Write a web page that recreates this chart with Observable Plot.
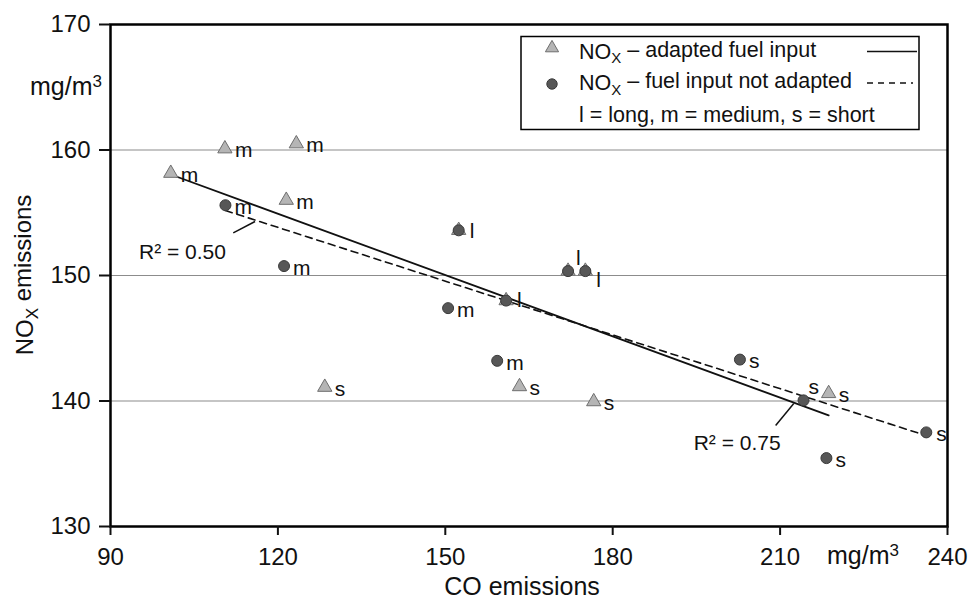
<!DOCTYPE html>
<html>
<head>
<meta charset="utf-8">
<script src="https://cdn.jsdelivr.net/npm/d3@7"></script>
<script src="https://cdn.jsdelivr.net/npm/@observablehq/plot@0.6"></script>
<style>
  body { margin: 0; background: #fff; }
  #wrap { width: 970px; height: 603px; }
  svg { font-family: "Liberation Sans", Arial, sans-serif; }
</style>
</head>
<body>
<div id="wrap"></div>
<script>
// ---- data ----
const adaptedCO  = [100.8, 110.5, 123.3, 121.5, 152.4, 172.0, 175.1, 160.9, 128.4, 163.3, 176.6, 218.7];
const adaptedNOx = [158.15, 160.1, 160.5, 156.0, 153.6, 150.35, 150.35, 148.0, 141.1, 141.15, 139.95, 140.6];
const adaptedDuration = ["m", "m", "m", "m", "l", "l", "l", "l", "s", "s", "s", "s"];

const notAdaptedCO  = [110.6, 121.1, 150.5, 159.3, 152.4, 172.0, 175.1, 160.9, 202.8, 214.2, 218.3, 236.2];
const notAdaptedNOx = [155.6, 150.75, 147.4, 143.2, 153.6, 150.35, 150.35, 148.0, 143.3, 140.05, 135.45, 137.5];
const notAdaptedDuration = ["m", "m", "m", "m", "l", "l", "l", "l", "s", "s", "s", "s"];

const xTicks = [90, 120, 150, 180, 210, 240];
const yTicks = [130, 140, 150, 160, 170];
const gridLines = [140, 150, 160];

const seriesLead = "NO";
const seriesSub = "X";
const seriesRest = ["– adapted fuel input", "– fuel input not adapted"];
const durationNote = "l = long, m = medium, s = short";

const r2Text = ["R² = 0.50", "R² = 0.75"];
const r2CO   = [102.9, 202.3];
const r2NOx  = [151.85, 136.6];
const leaderCO1  = [112.0, 209.2];
const leaderNOx1 = [153.4, 138.05];
const leaderCO2  = [115.9, 212.45];
const leaderNOx2 = [154.3, 139.8];

// ---- build tables ----
const adapted = adaptedCO.map((x, i) => ({x, y: adaptedNOx[i], d: adaptedDuration[i], s: "a", i}));
const notAdapted = notAdaptedCO.map((x, i) => ({x, y: notAdaptedNOx[i], d: notAdaptedDuration[i], s: "n", i}));

// labels: one per position (shared points carry a single label)
const seen = new Set();
const labels = [];
for (const p of [...adapted, ...notAdapted]) {
  const k = p.x + "," + p.y;
  if (seen.has(k)) continue;
  seen.add(k);
  labels.push(p);
}
// label placement (pixel offsets), default right of the marker
const nudge = {a4: [11, 1], a5: [8, -13], a6: [11, 9], a7: [11, 0], n9: [5, -13], n11: [10, 2]};
function off(p) { return nudge[p.s + p.i] || (p.s === "a" ? [10, 2] : [9, 2]); }
const groups = d3.groups(labels, p => off(p).join(","));
const labelMarks = groups.map(([k, arr]) => {
  const [dx, dy] = k.split(",").map(Number);
  return Plot.text(arr, {x: "x", y: "y", text: "d", dx, dy, textAnchor: "start", lineAnchor: "middle", fontSize: 21, fill: "#111"});
});

const annotations = r2Text.map((t, i) => ({t, x: r2CO[i], y: r2NOx[i], x1: leaderCO1[i], y1: leaderNOx1[i], x2: leaderCO2[i], y2: leaderNOx2[i]}));

const chart = Plot.plot({
  width: 970,
  height: 603,
  marginLeft: 110,
  marginRight: 23,
  marginTop: 24,
  marginBottom: 77,
  x: {domain: [90, 240]},
  y: {domain: [130, 170]},
  style: {fontFamily: "Liberation Sans, Arial, sans-serif", color: "#111", background: "#fff"},
  marks: [
    Plot.ruleY(gridLines, {stroke: "#8c8c8c", strokeWidth: 1.2}),
    Plot.linearRegressionY(adapted, {x: "x", y: "y", ci: 0, stroke: "#111", strokeWidth: 1.8}),
    Plot.linearRegressionY(notAdapted, {x: "x", y: "y", ci: 0, stroke: "#111", strokeWidth: 1.6, strokeDasharray: "7,5"}),
    Plot.dot(adapted, {x: "x", y: "y", symbol: "triangle", r: 5.3, fill: "#b5b5b5", stroke: "#6e6e6e", strokeWidth: 1}),
    Plot.dot(notAdapted, {x: "x", y: "y", symbol: "circle", r: 5.5, fill: "#575757", stroke: "#3a3a3a", strokeWidth: 1}),
    ...labelMarks,
    Plot.link(annotations, {x1: "x1", y1: "y1", x2: "x2", y2: "y2", stroke: "#111", strokeWidth: 1.5}),
    Plot.text(annotations, {x: "x", y: "y", text: "t", fontSize: 21, fill: "#111", lineAnchor: "middle"}),
    Plot.frame({stroke: "#000", strokeWidth: 2.5}),
    Plot.axisY({ticks: yTicks, tickSize: 11, tickPadding: 9, fontSize: 24, label: null, strokeWidth: 2, tickFormat: d => d}),
    Plot.axisX({ticks: xTicks, tickSize: 9, tickPadding: 12, fontSize: 24, label: null, strokeWidth: 2, tickFormat: d => d})
  ]
});
document.getElementById("wrap").appendChild(chart);

// ---- titles, units and legend drawn into the same SVG ----
const svg = d3.select(chart);
const F = "Liberation Sans, Arial, sans-serif";

const yt = svg.append("text")
  .attr("transform", "translate(33,275) rotate(-90)")
  .attr("text-anchor", "middle").attr("font-size", 24).attr("font-family", F).attr("fill", "#111");
yt.append("tspan").text("NO");
yt.append("tspan").attr("dy", "0.3em").attr("font-size", 17).text("X");
yt.append("tspan").attr("dy", "-0.3em").text(" emissions");

svg.append("text").attr("x", 522).attr("y", 595).attr("text-anchor", "middle")
  .attr("font-size", 25).attr("font-family", F).attr("fill", "#111").text("CO emissions");

function unit(x, y, anchor) {
  const t = svg.append("text").attr("x", x).attr("y", y).attr("text-anchor", anchor)
    .attr("font-size", 25).attr("font-family", F).attr("fill", "#111");
  t.append("tspan").text("mg/m");
  t.append("tspan").attr("dy", "-0.5em").attr("font-size", 17).text("3");
}
unit(102, 95, "end");
unit(827, 564, "start");

// legend
const lg = svg.append("g").attr("text-anchor", "start");
lg.append("rect").attr("x", 521).attr("y", 36.5).attr("width", 398).attr("height", 93)
  .attr("fill", "#fff").attr("stroke", "#000").attr("stroke-width", 1.5);
lg.append("path").attr("d", d3.symbol(d3.symbolTriangle, 75)()).attr("transform", "translate(552,48)")
  .attr("fill", "#b5b5b5").attr("stroke", "#6e6e6e");
lg.append("path").attr("d", d3.symbol(d3.symbolCircle, 85)()).attr("transform", "translate(552,84)")
  .attr("fill", "#575757").attr("stroke", "#3a3a3a");
lg.append("line").attr("x1", 867).attr("x2", 917).attr("y1", 51.5).attr("y2", 51.5).attr("stroke", "#111").attr("stroke-width", 1.6);
lg.append("line").attr("x1", 867).attr("x2", 913).attr("y1", 83).attr("y2", 83).attr("stroke", "#111").attr("stroke-width", 1.5).attr("stroke-dasharray", "6,5");
[58.5, 90].forEach((y, i) => {
  const t = lg.append("text").attr("x", 579).attr("y", y).attr("text-anchor", "start")
    .attr("font-size", 21.5).attr("font-family", F).attr("fill", "#111");
  t.append("tspan").text(seriesLead);
  t.append("tspan").attr("dy", "0.3em").attr("font-size", 15).text(seriesSub);
  t.append("tspan").attr("dy", "-0.3em").text(" " + seriesRest[i]);
});
lg.append("text").attr("x", 579).attr("y", 121.5).attr("text-anchor", "start")
  .attr("font-size", 21.5).attr("font-family", F).attr("fill", "#111").text(durationNote);
</script>
</body>
</html>
